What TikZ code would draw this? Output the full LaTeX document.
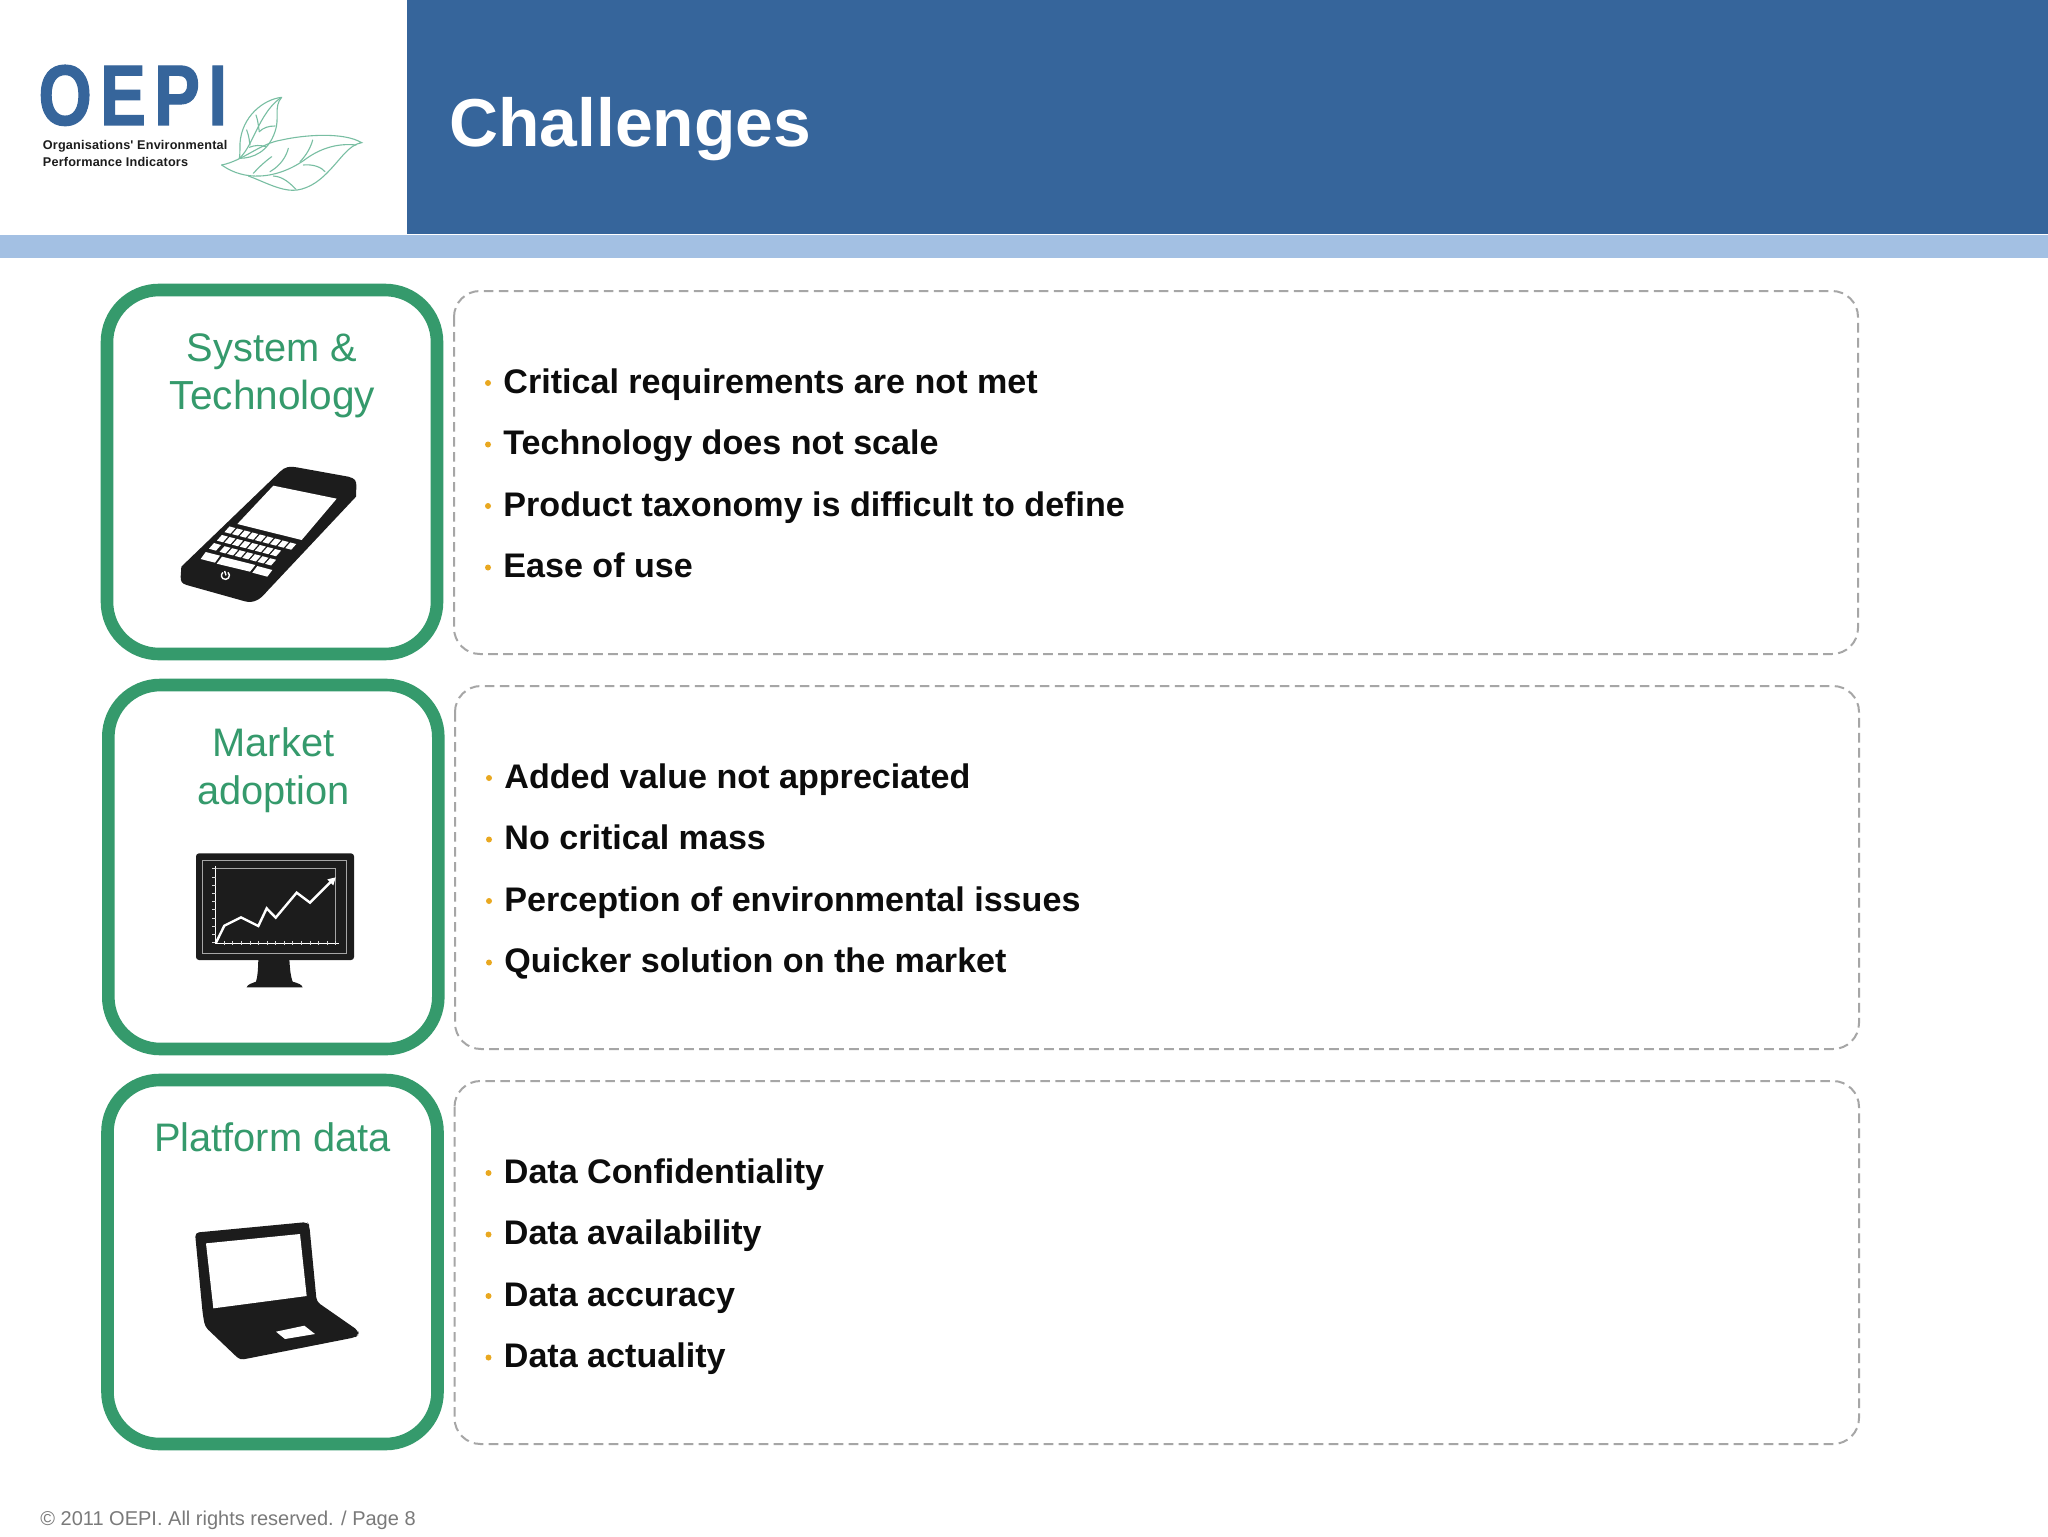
\documentclass[tikz,border=0pt]{standalone}
\usepackage{fontspec}
\setmainfont{Liberation Sans}
\newfontfamily\logofont[FakeStretch=0.8,FakeBold=1.2,LetterSpace=9.5]{Liberation Sans}
\newfontfamily\logosub[LetterSpace=1.5]{Liberation Sans}
\definecolor{hdrblue}{HTML}{36659B}
\definecolor{barblue}{HTML}{A3C0E3}
\definecolor{oegreen}{HTML}{359A6C}
\definecolor{leafgreen}{HTML}{78BEA2}
\definecolor{dashgray}{HTML}{A6A6A6}
\definecolor{bulletor}{HTML}{E9A820}
\definecolor{iconblack}{HTML}{1C1C1C}
\definecolor{itemblack}{HTML}{0C0C0C}
\definecolor{footgray}{HTML}{7A7A7A}
\tikzset{
  greenbox/.style={draw=oegreen,line width=6.3pt,rounded corners=26pt,fill=white},
  dashbox/.style={draw=dashgray,line width=1pt,rounded corners=13pt,dash pattern=on 4.8pt off 2.7pt},
  cardtitle/.style={text=oegreen,font=\fontsize{19.9}{24}\selectfont,anchor=base,inner sep=0pt},
  itemtext/.style={text=itemblack,font=\bfseries\fontsize{17.05}{20}\selectfont,anchor=base west,inner sep=0pt},
  dot/.style={circle,fill=bulletor,minimum size=3pt,inner sep=0pt},
  leaf/.style={draw=leafgreen,line width=0.55pt,line cap=round,fill=none},
  ink/.style={fill=iconblack,draw=none},
  hole/.style={fill=white,draw=none},
}
\newcommand{\itemrow}[4]{%
  \node[dot] (#1d) at (#2-15,#3-10) {};
  \node[itemtext] (#1t) at (#2,#3) {#4};}
\begin{document}
\begin{tikzpicture}[x=0.5pt,y=-0.5pt]
\useasboundingbox (0,0) rectangle (2048,1536);
\fill[white] (0,0) rectangle (2048,1536);
% header
\fill[hdrblue] (406.5,0) rectangle (2048,234);
\fill[barblue] (0,235) rectangle (2048,258);
\node[text=white,font=\bfseries\fontsize{33.9}{40}\selectfont,anchor=base west,inner sep=0pt] (title) at (449,146.3) {Challenges};
% logo
\node[text=hdrblue,font=\logofont\bfseries\fontsize{43}{50}\selectfont,anchor=base west,inner sep=0pt] (logo) at (38,125) {OEPI};
\node[text=iconblack,font=\logosub\bfseries\fontsize{6.33}{8}\selectfont,anchor=base west,inner sep=0pt] (logoa) at (42.5,149) {Organisations' Environmental};
\node[text=iconblack,font=\logosub\bfseries\fontsize{6.33}{8}\selectfont,anchor=base west,inner sep=0pt] (logob) at (42.5,166) {Performance Indicators};
\begin{scope}[shift={(210,90)},x=0.16667pt,y=-0.16667pt]
% big leaf
\draw[leaf] (35,225) .. controls (100,212) and (150,160) .. (215,150) .. controls (280,135) and (400,125) .. (455,158) .. controls (415,165) and (395,205) .. (350,250) .. controls (310,290) and (270,305) .. (235,300) .. controls (195,295) and (150,270) .. (115,258);
\draw[leaf] (35,225) .. controls (70,250) and (110,260) .. (150,258) .. controls (200,256) and (250,235) .. (290,205) .. controls (340,170) and (390,160) .. (438,165);
\draw[leaf] (130,250) .. controls (150,228) and (165,215) .. (185,200);
\draw[leaf] (180,245) .. controls (215,225) and (230,195) .. (235,175);
\draw[leaf] (270,215) .. controls (290,195) and (303,170) .. (308,150);
\draw[leaf] (280,225) .. controls (310,222) and (335,232) .. (345,245);
\draw[leaf] (190,258) .. controls (220,260) and (240,280) .. (258,298);
% small leaf
\draw[leaf] (215,22) .. controls (160,28) and (95,80) .. (90,160) .. controls (90,180) and (90,195) .. (88,205) .. controls (130,205) and (175,185) .. (195,125) .. controls (210,85) and (190,50) .. (215,22);
\draw[leaf] (210,25) .. controls (170,55) and (150,100) .. (130,140) .. controls (118,165) and (105,190) .. (88,205);
\draw[leaf] (138,75) .. controls (145,95) and (145,110) .. (148,125);
\draw[leaf] (148,125) .. controls (160,113) and (175,108) .. (195,108);
\draw[leaf] (110,120) .. controls (118,140) and (118,155) .. (120,165);
\draw[leaf] (118,172) .. controls (135,165) and (150,165) .. (168,170);
\end{scope}
% boxes
\node[greenbox,minimum width=165pt,minimum height=182pt] (box1) at (272,472) {};
\node[greenbox,minimum width=165pt,minimum height=182pt] (box2) at (273.3,867) {};
\node[greenbox,minimum width=165pt,minimum height=182pt] (box3) at (272.5,1262) {};
\draw[dashbox] (454,291) rectangle (1858,654);
\draw[dashbox] (455,686) rectangle (1859,1049);
\draw[dashbox] (454.5,1081) rectangle (1859,1444);
% card titles
\node[cardtitle] (t1a) at (272,361) {System \&};
\node[cardtitle,font=\fontsize{20.3}{24}\selectfont] (t1b) at (272.5,409) {Technology};
\node[cardtitle] (t2a) at (273.5,756) {Market};
\node[cardtitle] (t2b) at (273.5,804) {adoption};
\node[cardtitle] (t3a) at (272.5,1151) {Platform data};
% items
\itemrow{a1}{503}{393}{Critical requirements are not met}
\itemrow{a2}{503}{454.5}{Technology does not scale}
\itemrow{a3}{503}{516}{Product taxonomy is difficult to define}
\itemrow{a4}{503}{577.5}{Ease of use}
\itemrow{b1}{504}{788}{Added value not appreciated}
\itemrow{b2}{504}{849.5}{No critical mass}
\itemrow{b3}{504}{911}{Perception of environmental issues}
\itemrow{b4}{504}{972.5}{Quicker solution on the market}
\itemrow{c1}{503.5}{1183}{Data Confidentiality}
\itemrow{c2}{503.5}{1244.5}{Data availability}
\itemrow{c3}{503.5}{1306}{Data accuracy}
\itemrow{c4}{503.5}{1367.5}{Data actuality}
% footer
\node[text=footgray,font=\fontsize{10}{12}\selectfont,anchor=base west,inner sep=0pt] (foot) at (40,1525) {© 2011 OEPI. All rights reserved.  / Page 8};
% phone
\begin{scope}[shift={(90,270)},x=0.16667pt,y=-0.16667pt]
\fill[ink] (570,605) .. controls (585,590) and (600,588) .. (620,592) -- (775,620) .. controls (795,625) and (800,632) .. (799,650) -- (798,680) -- (530,965) .. controls (510,990) and (490,1000) .. (465,994) -- (290,945) .. controls (275,940) and (272,935) .. (272,920) -- (274,890) -- cycle;
\fill[hole] (550,647) -- (740,686) -- (635,810) -- (442,762) -- cycle;
\foreach \r/\s/\n in {0/0/8,1/0.1/7}
  \foreach \i in {0,...,\n}
    \fill[hole] ({417+22.8*(\i+\s+0.06)-25*\r},{769+6*(\i+\s+0.06)+25*\r}) -- ++(18,4.7) -- ++(-15,17) -- ++(-18,-4.7) -- cycle;
\foreach \i in {1.6,2.6,...,7.6}
  \fill[hole] ({367+22.8*\i},{819+6*\i}) -- ++(18,4.7) -- ++(-15,17) -- ++(-18,-4.7) -- cycle;
\fill[hole] (372,819) -- (393,825) -- (378,842) -- (357,836) -- cycle;
\fill[hole] (347,846) -- (390,857) -- (375,878) -- (332,867) -- cycle;
\fill[hole] (396,860) -- (496,885) -- (480,905) -- (380,881) -- cycle;
\fill[hole] (502,888) -- (547,900) -- (532,920) -- (487,908) -- cycle;
\draw[white,line width=0.7pt] (414,907) arc[start angle=-50,end angle=230,radius=12] (404,903) -- (408,916);
\end{scope}
% monitor
\begin{scope}[shift={(170,830)},x=0.16667pt,y=-0.16667pt]
\fill[ink,rounded corners=1.5pt] (78,70) rectangle (552,390);
\fill[ink] (265,388) -- (358,388) .. controls (360,420) and (362,440) .. (368,455) .. controls (385,460) and (395,463) .. (398,472) -- (230,472) .. controls (233,463) and (245,460) .. (258,455) .. controls (263,440) and (264,420) .. (265,388) -- cycle;
\draw[gray!70,line width=0.6pt] (97,92) rectangle (530,370);
\draw[gray!70,line width=0.55pt] (137,116) -- (497,116) -- (497,340);
\draw[white,line width=0.7pt] (137,108) -- (137,340) -- (507,340);
\foreach \k in {1,...,14} \draw[white!85!black,line width=0.35pt] ({137+25.7*\k},334) -- ++(0,12);
\foreach \k in {0,...,9} \draw[white!85!black,line width=0.35pt] (126,{116+24.7*\k}) -- ++(11,0);
\draw[white,line width=1.2pt] (137,340) -- (163,287) -- (213,262) -- (265,288) -- (290,235) -- (317,263) -- (380,188) -- (420,218) -- (485,153);
\fill[white] (497,142) -- (472,148) -- (490,166) -- cycle;
\end{scope}
% laptop
\begin{scope}[shift={(170,1200)},x=0.16667pt,y=-0.16667pt]
\fill[ink,rounded corners=2pt] (75,98) -- (412,66) -- (418,76) -- (440,305) -- (565,392) -- (566,405) -- (555,412) -- (210,480) -- (105,380) -- (98,340) -- cycle;
\fill[hole] (108,130) -- (390,102) -- (410,288) -- (130,325) -- cycle;
\fill[hole] (318,395) -- (403,377) -- (435,402) -- (345,417) -- cycle;
\end{scope}
\end{tikzpicture}
\end{document}
